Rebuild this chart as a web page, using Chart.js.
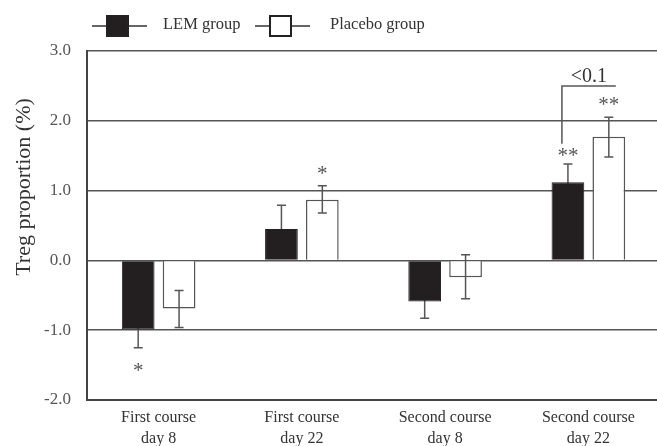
<!DOCTYPE html>
<html><head><meta charset="utf-8">
<script src="https://cdn.jsdelivr.net/npm/chart.js@4.4.0/dist/chart.umd.min.js"></script>
<style>html,body{margin:0;padding:0;background:#fff;overflow:hidden;width:657px;height:446px}
#wrap{width:662px;height:446px}</style></head>
<body><div id="wrap"><canvas id="c" width="662" height="446"></canvas></div>
<script>
const categories = [["First course","day 8"],["First course","day 22"],["Second course","day 8"],["Second course","day 22"]];
const seriesNames = ["LEM group","Placebo group"];
const lemValues = [-0.99, 0.45, -0.59, 1.12];
const lemErrLow = [-1.25, 0.11, -0.83, 0.86];
const lemErrHigh = [-0.73, 0.79, -0.35, 1.38];
const placeboValues = [-0.69, 0.87, -0.24, 1.77];
const placeboErrLow = [-0.96, 0.68, -0.55, 1.48];
const placeboErrHigh = [-0.43, 1.07, 0.08, 2.05];
const yTickValues = [-2, -1, 0, 1, 2, 3];
const lemSig = ["*", "", "", "**"];
const lemSigAt = [-1.54, null, null, 1.54];
const placeboSig = ["", "*", "", "**"];
const placeboSigAt = [null, 1.29, null, 2.27];
const bracketLabel = "<0.1";
const bracketFrom = 1.67, bracketTop = 2.50;
const yTitle = "Treg proportion (%)";

const SERIF = "'Liberation Serif','Times New Roman',serif";
const errs = [[lemErrLow, lemErrHigh],[placeboErrLow, placeboErrHigh]];

function drawErr(chart, di) {
  const ctx = chart.ctx, y = chart.scales.y, e = errs[di];
  ctx.save();
  ctx.strokeStyle = '#555'; ctx.lineWidth = 1.5;
  chart.getDatasetMeta(di).data.forEach((bar, i) => {
    const x = bar.x, y1 = y.getPixelForValue(e[0][i]), y2 = y.getPixelForValue(e[1][i]);
    ctx.beginPath();
    ctx.moveTo(x, y1); ctx.lineTo(x, y2);
    ctx.moveTo(x - 4.5, y1); ctx.lineTo(x + 4.5, y1);
    ctx.moveTo(x - 4.5, y2); ctx.lineTo(x + 4.5, y2);
    ctx.stroke();
  });
  ctx.restore();
}

const extras = {
  id: 'extras',
  beforeDatasetsDraw(chart) { drawErr(chart, 0); },
  afterDatasetsDraw(chart) {
    drawErr(chart, 1);
    const ctx = chart.ctx, y = chart.scales.y;
    ctx.save();
    ctx.fillStyle = '#555';
    ctx.font = "21px " + SERIF;
    ctx.textAlign = 'center'; ctx.textBaseline = 'middle';
    const m0 = chart.getDatasetMeta(0).data, m1 = chart.getDatasetMeta(1).data;
    lemSig.forEach((s, i) => { if (s) ctx.fillText(s, m0[i].x, y.getPixelForValue(lemSigAt[i]) + 4); });
    placeboSig.forEach((s, i) => { if (s) ctx.fillText(s, m1[i].x, y.getPixelForValue(placeboSigAt[i]) + 4); });
    const bx1 = m0[3].x - 6, bx2 = m1[3].x + 7;
    ctx.strokeStyle = '#555'; ctx.lineWidth = 1.5;
    ctx.beginPath();
    ctx.moveTo(bx1, y.getPixelForValue(bracketFrom));
    ctx.lineTo(bx1, y.getPixelForValue(bracketTop));
    ctx.lineTo(bx2, y.getPixelForValue(bracketTop));
    ctx.stroke();
    ctx.fillStyle = '#333';
    ctx.font = "20px " + SERIF;
    ctx.textBaseline = 'alphabetic';
    ctx.fillText(bracketLabel, (bx1 + bx2) / 2, y.getPixelForValue(bracketTop) - 4);
    ctx.restore();
  },
  afterDraw(chart) {
    const ctx = chart.ctx;
    ctx.save();
    ctx.fillStyle = '#333';
    ctx.font = "22px " + SERIF;
    ctx.textAlign = 'center'; ctx.textBaseline = 'middle';
    ctx.translate(24, 187); ctx.rotate(-Math.PI / 2);
    ctx.fillText(yTitle, 0, 0);
    ctx.restore();
    ctx.save();
    const ly = 26;
    const items = [{x: 92, fill: '#231f20'}, {x: 255, fill: '#fff'}];
    ctx.font = "16.5px " + SERIF; ctx.textBaseline = 'middle'; ctx.textAlign = 'left';
    items.forEach((it, i) => {
      ctx.strokeStyle = '#333'; ctx.lineWidth = 1.5;
      ctx.beginPath(); ctx.moveTo(it.x, ly); ctx.lineTo(it.x + 55, ly); ctx.stroke();
      ctx.fillStyle = it.fill;
      ctx.fillRect(it.x + 15, ly - 10, 21, 20);
      ctx.lineWidth = 2; ctx.strokeStyle = '#222';
      ctx.strokeRect(it.x + 15, ly - 10, 21, 20);
      ctx.fillStyle = '#333';
      ctx.fillText(chart.data.datasets[i].label, it.x + (i === 0 ? 71 : 75), ly - 1);
    });
    ctx.restore();
  }
};

new Chart(document.getElementById('c'), {
  type: 'bar',
  data: {
    labels: categories,
    datasets: [
      { label: seriesNames[0], data: lemValues, backgroundColor: '#231f20', borderColor: '#231f20', borderWidth: 1,
        categoryPercentage: 0.571, barPercentage: 0.80 },
      { label: seriesNames[1], data: placeboValues, backgroundColor: '#ffffff', borderColor: '#555', borderWidth: 1.5,
        categoryPercentage: 0.571, barPercentage: 0.80 }
    ]
  },
  options: {
    responsive: false, animation: false, devicePixelRatio: 1,
    layout: { padding: { left: 0, top: 51, right: 2, bottom: 0 } },
    plugins: { legend: { display: false }, tooltip: { enabled: false } },
    scales: {
      x: {
        grid: { display: false, drawTicks: false },
        border: { display: true, color: '#444', width: 2 },
        ticks: { color: '#333', font: { family: SERIF, size: 16, lineHeight: 1.28 }, padding: 8, maxRotation: 0 },
        afterFit(s) { s.height = 46; }
      },
      y: {
        min: -2, max: 3,
        afterBuildTicks(s) { s.ticks = yTickValues.map(v => ({ value: v })); },
        grid: { color: '#555', lineWidth: 1.5, drawTicks: false },
        border: { display: true, color: '#444', width: 2 },
        ticks: { color: '#555', font: { family: SERIF, size: 17 }, padding: 16, callback: v => v.toFixed(1) },
        afterFit(s) { s.width = 87; }
      }
    }
  },
  plugins: [extras]
});
</script></body></html>
